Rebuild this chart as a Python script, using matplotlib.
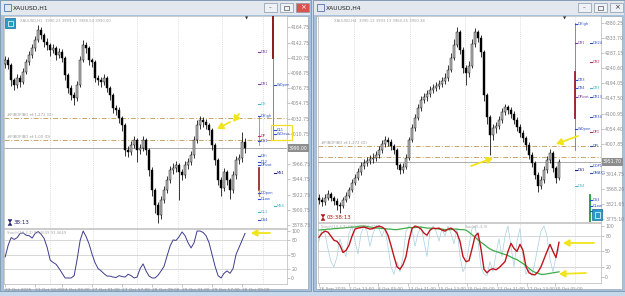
import matplotlib
matplotlib.use('Agg')
import matplotlib.pyplot as plt
from matplotlib.patches import Rectangle, Polygon
import numpy as np

# ---------------- DATA ----------------
# Left chart XAUUSD,H1
h1_close = [4117.5, 4110.3, 4088.6, 4081.3, 4091.5, 4085.7, 4100.1, 4114.6, 4124.7, 4134.9,
            4146.4, 4160.9, 4153.7, 4143.5, 4139.2, 4132.0, 4134.9, 4124.7, 4129.1, 4120.4,
            4095.8, 4077.0, 4066.9, 4062.5, 4081.3, 4117.5, 4139.2, 4134.9, 4117.5, 4114.6,
            4091.5, 4088.6, 4085.7, 4091.5, 4077.0, 4066.9, 4048.0, 4045.2, 4033.6, 4023.5,
            3987.3, 3984.4, 3994.5, 4001.7, 3987.3, 3990.2, 4001.7, 3987.3, 3958.3, 3929.4,
            3907.7, 3893.2, 3914.9, 3929.4, 3943.9, 3958.3, 3961.2, 3965.6, 3955.5, 3951.1,
            3965.6, 3969.9, 3980.0, 4001.7, 4023.5, 4030.7, 4027.8, 4023.5, 4016.2, 3994.5,
            3972.8, 3943.9, 3932.3, 3955.5, 3943.9, 3929.4, 3951.1, 3972.8, 3975.7, 3998.9, 3990.0]
h1_first_open = 4112.0
h1_high = [4124, 4122, 4113, 4092, 4097, 4096, 4106, 4119, 4130, 4140,
           4152, 4168, 4165, 4157, 4149, 4142, 4141, 4138, 4135, 4133,
           4123, 4099, 4081, 4071, 4087, 4124, 4146, 4144, 4138, 4121,
           4117, 4096, 4093, 4097, 4094, 4080, 4070, 4053, 4049, 4037,
           4026, 3993, 4000, 4008, 4005, 3996, 4008, 4005, 3990, 3962,
           3933, 3912, 3920, 3935, 3950, 3964, 3968, 3972, 3969, 3960,
           3971, 3976, 3986, 4008, 4030, 4037, 4035, 4032, 4027, 4019,
           3998, 3976, 3948, 3961, 3959, 3947, 3957, 3978, 3982, 4013, 4004]
h1_low = [4106, 4104, 4080, 4074, 4077, 4079, 4083, 4097, 4111, 4120,
          4131, 4143, 4148, 4137, 4132, 4124, 4127, 4118, 4120, 4114,
          4089, 4070, 4060, 4052, 4058, 4078, 4114, 4128, 4111, 4108,
          4085, 4082, 4079, 4081, 4071, 4060, 4041, 4038, 4026, 4015,
          3979, 3977, 3980, 3990, 3970, 3982, 3986, 3980, 3950, 3920,
          3896, 3882, 3888, 3910, 3925, 3940, 3952, 3955, 3915, 3944,
          3947, 3960, 3965, 3976, 3998, 4018, 4021, 4017, 4009, 3988,
          3965, 3936, 3920, 3928, 3937, 3916, 3925, 3946, 3967, 3970, 3983]
h1_stoch = [45, 70, 86, 82, 86, 95, 96, 91, 90, 85,
            95, 99, 93, 84, 65, 38, 33, 29, 20, 10,
            0, 0, 0, 5, 40, 80, 100, 88, 72, 50,
            32, 20, 15, 9, 4, 4, 2, 1, 5, 3,
            2, 8, 5, 0, 2, 20, 30, 15, 4, 0,
            0, 6, 15, 25, 47, 68, 81, 80, 88, 98,
            90, 75, 64, 75, 100, 100, 97, 90, 75, 50,
            25, 5, 0, 10, 15, 10, 20, 50, 65, 80, 95]
h1_price_ticks = [3878.75 + 22 * k for k in range(14)]
h1_fib_levels = [4033.6, 4001.7]
h1_fib_labels = ["#FIBOFIBO ef:1,272 (D)", "#FIBOFIBO ef:1,00 (D)"]
h1_current = 3990.0
h1_date_pos = [0, 10, 19, 29, 39, 49, 59, 69, 79]
h1_date_labels = ["22 Oct 2025", "23 Oct 10:00", "24 Oct 02:00", "27 Oct 01:00", "27 Oct 17:00",
                  "28 Oct 09:00", "29 Oct 01:00", "29 Oct 17:00", "30 Oct 09:00"]
h1_grid = [15, 29.3, 44, 57.7, 72.3, 86]
h1_piv_a = [("DR2", 4129, '#7b3f9e'), ("DR1", 4083, '#7b3f9e'), ("DH", 4054, '#3fb8c8'),
            ("DHigh", 4036, '#3050c8'), ("DP", 4007, '#c03060'), ("DS1", 4000, '#3050c8'),
            ("DHi", 3978, '#3050c8'), ("DL2", 3970, '#3050c8'), ("DPivot", 3965, '#3050c8'),
            ("DOpen", 3925, '#3050c8'), ("DLow", 3916, '#3050c8'), ("DL3", 3897, '#3fb8c8'),
            ("DS4", 3886, '#3050c8')]
h1_piv_b = [("WOpen", 4081, '#3050c8'), ("DL1", 4016, '#3050c8'), ("WClose", 4010, '#3050c8'),
            ("MS1", 3954, '#202080'), ("MS4", 3906, '#3fb8c8')]

# Right chart XAUUSD,H4
h4_close = [3834.6, 3828.4, 3840.8, 3853.1, 3840.8, 3831.5, 3819.2, 3816.1, 3834.6, 3846.9,
            3865.4, 3887.0, 3902.4, 3920.9, 3939.4, 3948.6, 3954.8, 3961.0, 3964.0, 3973.3,
            3988.7, 4007.2, 4019.6, 4013.4, 4001.0, 3988.7, 3942.5, 3927.0, 3936.3, 3964.0,
            4019.6, 4056.5, 4087.4, 4118.2, 4142.9, 4152.1, 4161.4, 4173.7, 4179.9, 4186.0,
            4192.2, 4201.4, 4210.7, 4235.3, 4272.3, 4312.4, 4352.5, 4297.0, 4241.5, 4226.1,
            4247.7, 4315.5, 4352.5, 4334.0, 4290.8, 4158.3, 4090.5, 4035.0, 4056.5, 4062.7,
            4081.2, 4105.9, 4121.3, 4112.0, 4099.7, 4081.2, 4059.6, 4041.1, 4025.7, 4004.1,
            3973.3, 3948.6, 3911.6, 3877.7, 3896.2, 3927.0, 3957.9, 3979.5, 3933.2, 3902.4, 3951.7]
h4_first_open = 3840.0
h4_high = [3852, 3845, 3852, 3866, 3860, 3848, 3840, 3828, 3845, 3858,
           3876, 3898, 3915, 3932, 3952, 3962, 3968, 3974, 3978, 3986,
           4000, 4020, 4032, 4030, 4022, 4008, 3995, 3950, 3948, 3975,
           4030, 4068, 4100, 4130, 4155, 4165, 4175, 4186, 4192, 4198,
           4205, 4215, 4225, 4250, 4288, 4330, 4368, 4360, 4305, 4250,
           4262, 4330, 4365, 4360, 4342, 4298, 4165, 4098, 4068, 4075,
           4095, 4118, 4132, 4128, 4120, 4108, 4090, 4068, 4050, 4032,
           4012, 3982, 3956, 3920, 3908, 3938, 3970, 3992, 3986, 3940, 3962]
h4_low = [3822, 3815, 3820, 3833, 3830, 3818, 3805, 3795, 3810, 3828,
          3840, 3858, 3880, 3895, 3912, 3930, 3940, 3945, 3950, 3955,
          3965, 3980, 3998, 4002, 3990, 3975, 3930, 3915, 3918, 3930,
          3958, 4012, 4048, 4080, 4110, 4135, 4140, 4152, 4165, 4170,
          4176, 4182, 4192, 4202, 4228, 4265, 4305, 4285, 4225, 4190,
          4215, 4240, 4305, 4322, 4275, 4140, 4070, 3973, 4020, 4040,
          4052, 4072, 4098, 4100, 4088, 4068, 4048, 4030, 4012, 3990,
          3960, 3935, 3898, 3858, 3868, 3888, 3918, 3950, 3920, 3888, 3895]
h4_stoch_main = [78, 86, 90, 88, 80, 72, 70, 62, 48, 52,
                 62, 80, 94, 96, 97, 98, 96, 94, 95, 98,
                 100, 98, 94, 82, 62, 40, 20, 15, 24, 40,
                 72, 95, 100, 98, 94, 86, 82, 92, 96, 95,
                 96, 92, 90, 94, 96, 92, 86, 70, 40, 30,
                 32, 55, 80, 86, 55, 15, 8, 14, 16, 14,
                 18, 24, 30, 50, 66, 56, 50, 64, 52, 20,
                 8, 5, 4, 10, 20, 35, 50, 64, 50, 38, 68]
h4_stoch_fast = [70, 95, 85, 55, 30, 20, 40, 75, 55, 40,
                 85, 100, 70, 45, 85, 100, 90, 60, 85, 100,
                 95, 80, 95, 60, 20, 5, 30, 10, 40, 90,
                 100, 95, 60, 85, 100, 70, 40, 90, 100, 90,
                 70, 95, 80, 100, 85, 65, 95, 40, 10, 25,
                 60, 95, 100, 70, 20, 5, 2, 30, 10, 45,
                 75, 40, 80, 100, 60, 20, 70, 95, 40, 5,
                 15, 2, 30, 60, 90, 100, 80, 35, 10, 40, 55]
h4_stoch_slow = [92, 93, 93, 94, 94, 95, 95, 96, 96, 97,
                 97, 98, 98, 99, 100, 100, 99, 98, 97, 96,
                 96, 95, 95, 94, 94, 93, 93, 94, 95, 96,
                 97, 97, 97, 98, 98, 97, 96, 96, 95, 95,
                 94, 94, 93, 93, 93, 94, 94, 93, 93, 92,
                 88, 83, 78, 73, 68, 64, 59, 55, 52, 50,
                 48, 46, 44, 42, 39, 36, 34, 30, 26, 22,
                 17, 12, 9, 7, 5, 5, 6, 7, 8, 9, 10]
h4_price_ticks = [4380.25 - 46.55 * k for k in range(14)]
h4_fib_levels = [4001.0, 3967.1]
h4_fib_labels = ["#FIBOFIBO ef:1,272 (D)", ""]
h4_current = 3951.7
h4_date_pos = [0, 10, 19.7, 29.7, 39.7, 49.3, 59.3, 69.3, 78.7]
h4_date_labels = ["26 Sep 2025", "2 Oct 13:00", "8 Oct 05:00", "12 Oct 21:00", "15 Oct 13:00",
                  "20 Oct 05:00", "22 Oct 21:00", "27 Oct 13:00", "30 Oct 05:00"]
h4_grid = [11.7, 30.3, 48.7, 67, 85.3]
h4_piv_a = [("DHigh", 4377, '#3050c8'), ("DR1", 4319, '#7b3f9e'), ("DR3", 4205, '#3050c8'),
            ("DR4", 4180, '#3050c8'), ("DPivot", 4152, '#7b3f9e'), ("WOpen", 4053, '#3050c8'),
            ("DS1", 3927, '#202080'), ("DS4", 3878, '#3fb8c8')]
h4_piv_b = [("DH24", 4319, '#3050c8'), ("DR2", 4260, '#c03060'), ("DR3", 4180, '#3fb8c8'),
            ("DR13", 4152, '#3050c8'), ("DR34", 4090, '#3050c8'), ("DP1", 4044, '#c03060'),
            ("DPL", 4001, '#3050c8'), ("DOP1", 3939, '#3050c8'), ("DMAX1", 3918, '#3050c8'),
            ("DS3", 3835, '#3050c8'), ("DLow", 3816, '#3050c8'), ("DPivot", 3801, '#3050c8')]

# ---------------- FIGURE ----------------
W, H = 625, 296
fig = plt.figure(figsize=(W / 100, H / 100), dpi=100)
fig.patch.set_facecolor('#c6d9ec')


def px_axes(x0, y0, x1, y1, z=1):
    a = fig.add_axes([x0 / W, 1 - y1 / H, (x1 - x0) / W, (y1 - y0) / H])
    a.set_zorder(z)
    return a


bg = px_axes(0, 0, W, H, z=0)
bg.set_xlim(0, W)
bg.set_ylim(H, 0)
bg.axis('off')

# overlay for icons drawn above the chart axes
fg = px_axes(0, 0, W, H, z=10)
fg.set_xlim(0, W)
fg.set_ylim(H, 0)
fg.axis('off')
fg.patch.set_alpha(0)


def window(x0, x1, title, active):
    bg.add_patch(Rectangle((x0, 0), x1 - x0, 291, facecolor='#a6c2de', edgecolor='#7d95ad', lw=0.6))
    bg.add_patch(Rectangle((x0 + 1, 1), x1 - x0 - 2, 14, facecolor='#e3e8ee', edgecolor='none'))
    bg.add_patch(Rectangle((x0 + 3, 16), x1 - x0 - 6, 273, facecolor='white', edgecolor='#9aa8b6', lw=0.5))
    bg.add_patch(Rectangle((x0 + 4, 4), 7, 7, facecolor='none', edgecolor='#4a78a8', lw=0.6))
    bg.text(x0 + 13, 8, title, fontsize=4.3, color='#222222', va='center', ha='left')
    bx = [x1 - 47, x1 - 31, x1 - 15]
    for k, b in enumerate(bx):
        fc = '#d9534f' if (active and k == 2) else '#eef1f5'
        bg.add_patch(Rectangle((b, 3), 13, 9, facecolor=fc, edgecolor='#8898a8', lw=0.5))
    bg.text(bx[0] + 6.5, 8, '–', fontsize=4, ha='center', va='center', color='#333333')
    bg.add_patch(Rectangle((bx[1] + 4, 5.5), 5, 4, facecolor='none', edgecolor='#333333', lw=0.4))
    bg.text(bx[2] + 6.5, 7.6, '×', fontsize=5, ha='center', va='center',
            color='white' if active else '#333333')


window(0, 311, 'XAUUSD,H1', True)
window(313, 625, 'XAUUSD,H4', False)


def style_axis(ax):
    ax.set_facecolor('white')
    for s in ax.spines.values():
        s.set_color('#b8b8b8')
        s.set_linewidth(0.5)
    ax.yaxis.tick_right()
    ax.tick_params(axis='y', length=2, width=0.4, colors='#9a9a9a', labelsize=3.3, pad=1,
                   labelcolor='#8a8a8a')


def draw_candles(ax, first_open, close, high, low):
    n = len(close)
    idx = np.arange(n)
    opens = np.array([first_open] + list(close[:-1]))
    close = np.array(close)
    ax.vlines(idx, low, high, color='black', lw=0.55, zorder=3)
    bottoms = np.minimum(opens, close)
    heights = np.maximum(np.abs(close - opens), 0.8)
    colors = ['#bdbdbd' if c >= o else 'black' for o, c in zip(opens, close)]
    ax.bar(idx, heights, bottom=bottoms, width=0.75, color=colors, edgecolor='black',
           linewidth=0.3, zorder=4)


def main_chart(ax, first_open, close, high, low, ylim, ticks, fibs, fib_labels, current,
               grid, piv_a, piv_b, xa, xb, header):
    style_axis(ax)
    ax.set_xlim(-0.4, 94)
    ax.set_ylim(*ylim)
    ax.set_xticks([])
    step = abs(ticks[1] - ticks[0])
    ax.set_yticks(ticks)
    # the current-price box hides the tick label right under it
    ax.set_yticklabels(['' if abs(t - current) < 0.45 * step else f'{t:.2f}' for t in ticks])
    for g in grid:
        ax.axvline(g, color='#d4d4d4', lw=0.5, ls=(0, (1.5, 1.5)), zorder=1)
    for lev, lab in zip(fibs, fib_labels):
        ax.axhline(lev, color='#c9a465', lw=0.7, ls=(0, (5, 2, 1, 2)), zorder=2)
        if lab:
            ax.text(0.5, lev + (ylim[1] - ylim[0]) * 0.006, lab, fontsize=2.8, color='#9a9a9a',
                    va='bottom', ha='left', zorder=5)
    ax.axhline(current, color='#a0a0a0', lw=0.6, zorder=2)
    ax.annotate(f'{current:.2f}', xy=(1.0, current), xycoords=('axes fraction', 'data'),
                xytext=(1.5, 0), textcoords='offset points', fontsize=3.3, color='white',
                va='center', ha='left',
                bbox=dict(boxstyle='square,pad=0.25', fc='#8e8e8e', ec='none'), zorder=6,
                annotation_clip=False)
    draw_candles(ax, first_open, close, high, low)
    for name, lev, col in piv_a:
        ax.plot([xa - 0.3, xa + 0.3], [lev, lev], color=col, lw=0.8, zorder=5)
        ax.text(xa + 0.5, lev, name, fontsize=2.6, color=col, va='center', ha='left', zorder=5)
    for name, lev, col in piv_b:
        ax.plot([xb - 0.3, xb + 0.3], [lev, lev], color=col, lw=0.8, zorder=5)
        ax.text(xb + 0.5, lev, name, fontsize=2.6, color=col, va='center', ha='left', zorder=5)
    ax.text(0.055, 0.985, header, transform=ax.transAxes, fontsize=2.7, color='#a0a0a0',
            va='top', ha='left')


def hourglass(x, y, col):
    # small hourglass symbol drawn as shapes (no installed font has the glyph)
    fg.add_patch(Polygon([(x - 2, y - 3), (x + 2, y - 3), (x, y)], closed=True, fc=col, ec=col, lw=0.3))
    fg.add_patch(Polygon([(x - 2, y + 3), (x + 2, y + 3), (x, y)], closed=True, fc=col, ec=col, lw=0.3))


# ---- Left window ----
axL = px_axes(4, 16, 287, 228)
main_chart(axL, h1_first_open, h1_close, h1_high, h1_low, (3874.4, 4181.2), h1_price_ticks,
           h1_fib_levels, h1_fib_labels, h1_current, h1_grid, h1_piv_a, h1_piv_b, 84.7, 90.0,
           'XAUUSD,H1  3990.23 3993.13 3988.50 3990.00')
axL.plot([89.3, 89.3], [4181, 4120], color='#8b1a1a', lw=1.4, zorder=4)
axL.plot([89.3, 89.3], [4120, 4002], color='#7a4a4a', lw=0.5, zorder=4)
axL.plot([84.7, 84.7], [4036, 3995], color='#777777', lw=0.5, zorder=4)
axL.plot([84.7, 84.7], [3961, 3929], color='#8b1a1a', lw=1.2, zorder=4)
axL.plot([84.7, 84.7], [3929, 3920], color='#c8a040', lw=1.0, zorder=4)
axL.text(80.6, 4181, '▼', fontsize=3, color='#333333', va='top', ha='center')
fg.add_patch(Rectangle((5, 18), 10, 10, facecolor='#2a9ac8', edgecolor='#1a6a98', lw=0.5))
fg.add_patch(Rectangle((7.5, 20.5), 5, 5, facecolor='none', edgecolor='white', lw=0.5))
fg.add_patch(Rectangle((271, 125), 21, 15, facecolor='none', edgecolor='#f0e020', lw=0.9))

oscL = px_axes(4, 229, 287, 284)
style_axis(oscL)
oscL.set_xlim(-0.4, 94)
oscL.set_ylim(-12.8, 104.3)
oscL.set_yticks([100, 80, 50, 20, 0])
oscL.set_yticklabels(['100', '80', '50', '20', '0'])
for lv in (80, 50, 20):
    oscL.axhline(lv, color='#c8c8c8', lw=0.5, zorder=1)
for g in h1_grid:
    oscL.axvline(g, color='#d4d4d4', lw=0.5, ls=(0, (1.5, 1.5)), zorder=1)
oscL.plot(np.arange(len(h1_stoch)), h1_stoch, color='#3c3c8c', lw=0.7, zorder=3)
oscL.set_xticks(h1_date_pos)
oscL.set_xticklabels(h1_date_labels, ha='left')
oscL.tick_params(axis='x', length=2, width=0.4, colors='#9a9a9a', labelsize=3.1, pad=1,
                 labelcolor='#8a8a8a')
oscL.text(0.01, 0.96, 'Stoch(14,3,3) 93.4649 93.4649', transform=oscL.transAxes, fontsize=2.7,
          color='#a8a8a8', va='top', ha='left')

# ---- Right window ----
axR = px_axes(318, 16, 601, 222)
main_chart(axR, h4_first_open, h4_close, h4_high, h4_low, (3766.7, 4401.8), h4_price_ticks,
           h4_fib_levels, h4_fib_labels, h4_current, h4_grid, h4_piv_a, h4_piv_b, 85.7, 90.7,
           'XAUUSD,H4  3990.13 3993.13 3960.25 3950.38')
axR.plot([85.3, 85.3], [4380, 3989], color='#6a5a8a', lw=0.5, zorder=4)
axR.plot([85.3, 85.3], [4229, 4087], color='#a01a2a', lw=1.3, zorder=4)
axR.plot([90.3, 90.3], [3850, 3767], color='#1f9a3a', lw=1.3, zorder=4)
axR.text(81.7, 4401, '▼', fontsize=3, color='#333333', va='top', ha='center')
fg.add_patch(Rectangle((592, 209), 10, 11, facecolor='#2a9ac8', edgecolor='#1a6a98', lw=0.5))
fg.add_patch(Rectangle((594.5, 211.5), 5, 6, facecolor='none', edgecolor='white', lw=0.5))

oscR = px_axes(318, 223, 601, 283)
style_axis(oscR)
oscR.set_xlim(-0.33, 94)
oscR.set_ylim(-12, 106)
oscR.set_yticks([100, 80, 50, 20, 0])
oscR.set_yticklabels(['100', '80', '50', '20', '0'])
for lv in (80, 50, 20):
    oscR.axhline(lv, color='#c8c8c8', lw=0.5, zorder=1)
for g in h4_grid:
    oscR.axvline(g, color='#d4d4d4', lw=0.5, ls=(0, (1.5, 1.5)), zorder=1)
xr = np.arange(len(h4_stoch_main))
oscR.plot(xr, h4_stoch_fast, color='#a8cfe0', lw=0.5, zorder=2)
oscR.plot(xr, h4_stoch_slow, color='#3cae48', lw=0.9, zorder=3)
oscR.plot(xr, h4_stoch_main, color='#c0141c', lw=1.0, zorder=4)
oscR.set_xticks(h4_date_pos)
oscR.set_xticklabels(h4_date_labels, ha='left')
oscR.tick_params(axis='x', length=2, width=0.4, colors='#9a9a9a', labelsize=3.1, pad=1,
                 labelcolor='#8a8a8a')
oscR.text(0.01, 0.97, 'Stoch(14,3,3) 68.6283 62.2714', transform=oscR.transAxes, fontsize=2.7,
          color='#a8a8a8', va='top', ha='left')
oscR.text(0.52, 0.97, 'Stoch(5,3,3)', transform=oscR.transAxes, fontsize=2.7,
          color='#a8a8a8', va='top', ha='left')

# countdown texts
hourglass(10, 222.5, '#202070')
fg.text(14, 222.5, '38:13', fontsize=4.0, color='#202070', va='center', ha='left')
hourglass(323, 217.5, '#b01010')
fg.text(327, 217.5, '03:38:13', fontsize=4.0, color='#b01010', va='center', ha='left')

# yellow annotation arrows
Y = '#f2e41a'
arrows = [((230, 122), (217, 129)), ((239, 114), (233, 122)),
          ((270, 233), (251, 233)),
          ((578, 136), (556, 144)), ((471, 166), (493, 158)),
          ((594, 243), (563, 243)), ((586, 273), (559, 274))]
for (x0, y0), (x1, y1) in arrows:
    fg.annotate('', xy=(x1, y1), xytext=(x0, y0),
                arrowprops=dict(arrowstyle='-|>,head_length=0.35,head_width=0.2', color=Y,
                                lw=1.3, shrinkA=0, shrinkB=0))

fig.savefig('out.png', dpi=100, facecolor=fig.get_facecolor())
